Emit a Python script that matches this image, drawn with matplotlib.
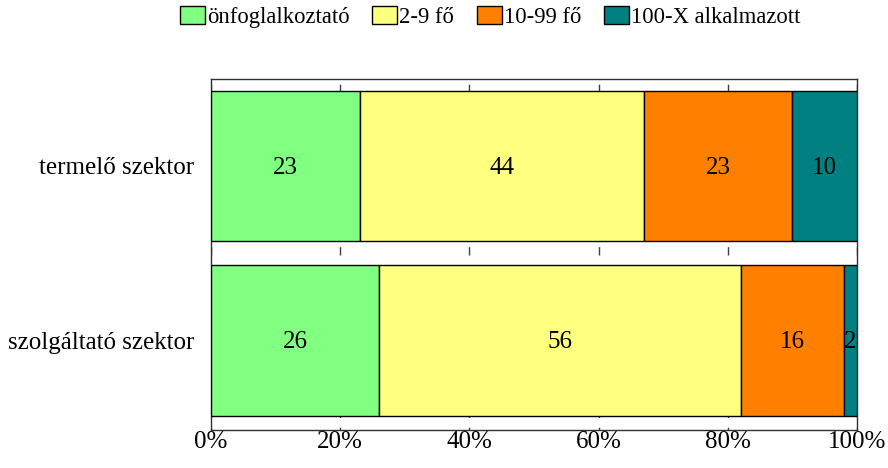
import matplotlib
matplotlib.use("Agg")
import matplotlib.pyplot as plt
from matplotlib.patches import Patch
import numpy as np

categories = ["szolgáltató szektor", "termelő szektor"]
series_names = ["önfoglalkoztató", "2-9 fő", "10-99 fő", "100-X alkalmazott"]
values = {
    "önfoglalkoztató": [26, 23],
    "2-9 fő": [56, 44],
    "10-99 fő": [16, 23],
    "100-X alkalmazott": [2, 10],
}
colors = ["#80FF80", "#FFFF80", "#FF8000", "#008080"]
xticks = [0, 20, 40, 60, 80, 100]
xtick_labels = ["0%", "20%", "40%", "60%", "80%", "100%"]

plt.rcParams['font.family'] = ['Liberation Serif', 'DejaVu Serif']

fig = plt.figure(figsize=(8.88, 4.68), dpi=100)
ax = fig.add_axes([0.2376, 0.0812, 0.9651 - 0.2376, 0.8312 - 0.0812])

y = np.arange(len(categories))
left = np.zeros(len(categories))
for name, col in zip(series_names, colors):
    vals = np.array(values[name], dtype=float)
    ax.barh(y, vals, left=left, height=0.86, color=col, edgecolor="black",
            linewidth=1.0, zorder=3)
    for yi, (l, v) in enumerate(zip(left, vals)):
        ax.text(l + v / 2, yi - 0.01, f"{int(v)}", ha="center", va="center",
                fontsize=18, zorder=4)
    left += vals

ax.set_xlim(0, 100)
ax.set_ylim(-0.513, 1.4986)
ax.set_xticks(xticks)
ax.set_xticklabels(xtick_labels, fontsize=18)
ax.set_yticks(y)
ax.set_yticklabels(categories, fontsize=18)
ax.tick_params(axis="both", length=0)
ax.tick_params(axis="x", pad=1)
ax.tick_params(axis="y", pad=12)
ax.xaxis.grid(True, color="#404040", linestyle=(4, (6, 7)), linewidth=1.0, zorder=1)
for s in ax.spines.values():
    s.set_color("#303030")
    s.set_linewidth(1.0)

handles = [Patch(facecolor=c, edgecolor="black", linewidth=1.0) for c in colors]
fig.legend(handles, series_names, loc="upper center", bbox_to_anchor=(0.552, 1.03),
           ncol=4, frameon=False, fontsize=16.3, handlelength=1.1, handleheight=0.8,
           handletextpad=0.1, columnspacing=1.0)

fig.savefig("out.png", dpi=100)
